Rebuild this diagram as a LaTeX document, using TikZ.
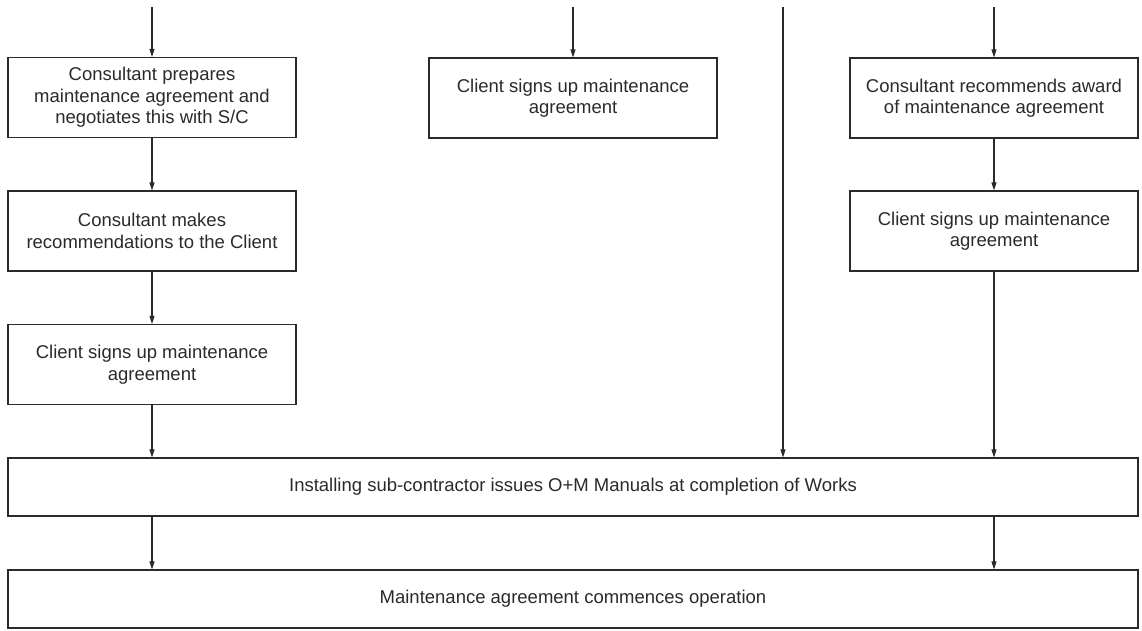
\documentclass[tikz,border=0pt]{standalone}
\usepackage{fontspec}
\setmainfont{Liberation Sans}
\usetikzlibrary{arrows.meta}
\definecolor{ink}{HTML}{2A2A2A}
\begin{document}
\begin{tikzpicture}[x=1pt,y=-1pt,
  every node/.style={text=ink, font=\fontsize{18.5}{21.5}\selectfont},
  stepbox/.style={draw=ink, line width=1.2pt, align=center, inner sep=0pt,
    minimum width=288pt, minimum height=80pt},
  widebox/.style={draw=ink, line width=1.2pt, align=center, inner sep=0pt,
    minimum width=1130pt, minimum height=58pt},
  flow/.style={draw=ink, line width=1.1pt, -{Triangle[length=8pt,width=5pt]}}]
\useasboundingbox (0,0) rectangle (1142,631);

% left column
\node[stepbox] (L1) at (152,97.5) {Consultant prepares\\maintenance agreement and\\negotiates this with S/C};
\node[stepbox] (L2) at (152,231) {Consultant makes\\recommendations to the Client};
\node[stepbox] (L3) at (152,364.5) {Client signs up maintenance\\agreement};

% middle column
\node[stepbox] (M1) at (573,98) {Client signs up maintenance\\agreement};

% right column
\node[stepbox] (R1) at (994,98) {Consultant recommends award\\of maintenance agreement};
\node[stepbox] (R2) at (994,231) {Client signs up maintenance\\agreement};

% full-width stages
\node[widebox] (W1) at (573,487) {Installing sub-contractor issues O+M Manuals at completion of Works};
\node[widebox] (W2) at (573,599) {Maintenance agreement commences operation};

% incoming routes from above
\coordinate (tL) at (152,7);
\coordinate (tM) at (573,7);
\coordinate (tV) at (783,7);
\coordinate (tR) at (994,7);

\draw[flow] (tL) -- (L1.north);
\draw[flow] (tM) -- (M1.north);
\draw[flow] (tR) -- (R1.north);
\draw[flow] (tV) -- (tV |- W1.north);

\draw[flow] (L1) -- (L2);
\draw[flow] (L2) -- (L3);
\draw[flow] (L3.south) -- (L3.south |- W1.north);

\draw[flow] (R1) -- (R2);
\draw[flow] (R2.south) -- (R2.south |- W1.north);

\draw[flow] (L3.south |- W1.south) -- (L3.south |- W2.north);
\draw[flow] (R2.south |- W1.south) -- (R2.south |- W2.north);
\end{tikzpicture}
\end{document}
